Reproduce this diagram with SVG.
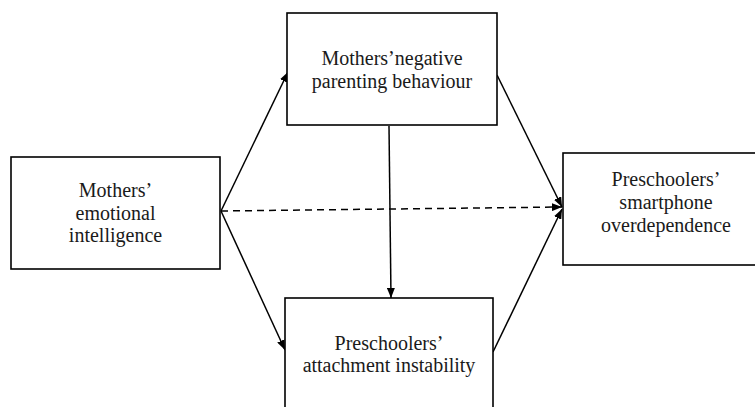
<svg xmlns="http://www.w3.org/2000/svg" width="755" height="407" viewBox="0 0 755 407">
<style>
.box{fill:#fff;stroke:#000;stroke-width:1.6}
.t{font-family:"Liberation Serif","Times New Roman",serif;font-size:20px;fill:#1a1a1a;text-anchor:middle}
.c{stroke:#000;stroke-width:1.5;fill:none}
.d{stroke-dasharray:7 5}
</style>
<defs>
<marker id="ah" viewBox="0 0 10 8" refX="10" refY="4" markerWidth="10" markerHeight="8" markerUnits="userSpaceOnUse" orient="auto">
<path d="M0,0 L10,4 L0,8 Z" fill="#000"/>
</marker>
</defs>
<rect width="755" height="407" fill="#fff"/>
<g id="connectors">
<line class="c" x1="221" y1="211" x2="288" y2="72" marker-end="url(#ah)"/>
<line class="c" x1="221" y1="211" x2="285" y2="350" marker-end="url(#ah)"/>
<line class="c d" x1="221" y1="211" x2="562" y2="207" marker-end="url(#ah)"/>
<line class="c" x1="497" y1="75" x2="562" y2="207" marker-end="url(#ah)"/>
<line class="c" x1="493" y1="352" x2="562" y2="209" marker-end="url(#ah)"/>
<line class="c" x1="389" y1="126" x2="391" y2="298" marker-end="url(#ah)"/>
</g>
<g id="node-emotional-intelligence">
<rect class="box" x="11" y="157" width="209" height="112"/>
<text class="t" x="115.5" y="197">Mothers’</text>
<text class="t" x="115.5" y="220">emotional</text>
<text class="t" x="115.5" y="242">intelligence</text>
</g>
<g id="node-negative-parenting">
<rect class="box" x="287" y="13" width="210" height="112"/>
<text class="t" x="392" y="65">Mothers’negative</text>
<text class="t" x="392" y="88">parenting behaviour</text>
</g>
<g id="node-smartphone-overdependence">
<rect class="box" x="563" y="153" width="210" height="112"/>
<text class="t" x="666" y="186">Preschoolers’</text>
<text class="t" x="666" y="209">smartphone</text>
<text class="t" x="666" y="232">overdependence</text>
</g>
<g id="node-attachment-instability">
<rect class="box" x="285" y="298" width="208" height="112"/>
<text class="t" x="389" y="350">Preschoolers’</text>
<text class="t" x="389" y="372">attachment instability</text>
</g>
</svg>
